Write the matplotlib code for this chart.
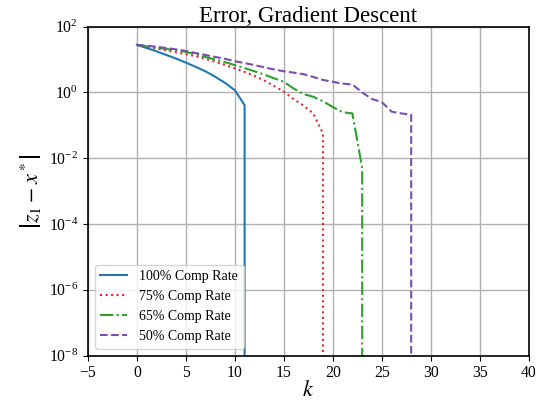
import matplotlib
matplotlib.use("Agg")
import matplotlib.pyplot as plt
from matplotlib.ticker import NullLocator

plt.rcParams['font.family'] = ['Liberation Serif', 'DejaVu Serif']
plt.rcParams['mathtext.fontset'] = 'stix'

# Erreur |z_1 - x*| par iteration k (la derniere valeur 0 = convergence exacte)
k_100 = [0, 1, 2, 3, 4, 5, 6, 7, 8, 9, 10, 11, 11]
err_100 = [28.0, 22.4, 17.8, 13.8, 10.7, 8.1, 6.0, 4.4, 3.0, 1.95, 1.17, 0.41, 0]

k_75 = list(range(20)) + [19]
err_75 = [28.0, 24.5, 21.6, 19.1, 16.6, 14.6, 12.6, 10.5, 8.5, 6.9, 5.4, 4.2,
          3.2, 2.3, 1.58, 1.05, 0.63, 0.40, 0.23, 0.056, 0]

k_65 = list(range(24)) + [23]
err_65 = [28.0, 25.1, 22.9, 20.9, 19.1, 17.1, 14.5, 12.0, 10.0, 8.3, 6.8, 5.5,
          4.4, 3.5, 2.7, 2.1, 1.32, 0.89, 0.74, 0.54, 0.36, 0.25, 0.23, 0.005, 0]

k_50 = list(range(29)) + [28]
err_50 = [28.0, 26.3, 24.5, 22.4, 20.4, 18.2, 15.8, 13.8, 12.0, 10.5, 8.9, 7.8,
          6.8, 5.8, 5.0, 4.4, 4.0, 3.6, 2.95, 2.4, 2.1, 1.86, 1.74, 1.0, 0.63,
          0.51, 0.26, 0.23, 0.21, 0]

labels = ["100% Comp Rate", "75% Comp Rate", "65% Comp Rate", "50% Comp Rate"]
y_ticks = [1e2, 1e0, 1e-2, 1e-4, 1e-6, 1e-8]

fig = plt.figure(figsize=(5.39, 4.04), dpi=100)
ax = fig.add_axes([0.163, 0.12, 0.818, 0.814])

ax.plot(k_100, err_100, '-', color='#1f77b4', lw=1.5, label=labels[0])
ax.plot(k_75, err_75, ':', color='#e8262a', lw=1.5, label=labels[1])
ax.plot(k_65, err_65, '-.', color='#2ca02c', lw=1.5, label=labels[2])
ax.plot(k_50, err_50, '--', color='#7b4eae', lw=1.5, label=labels[3])

ax.set_yscale('log')
ax.set_xlim(-5, 40)
ax.set_ylim(1e-8, 1e2)
ax.set_yticks(y_ticks)
ax.yaxis.set_minor_locator(NullLocator())
ax.grid(True, color='#b0b0b0', lw=1)
ax.tick_params(labelsize=11.3)
for s in ax.spines.values():
    s.set_linewidth(1.2)

ax.set_title("Error, Gradient Descent", fontsize=16.5, pad=2)
ax.set_xlabel(r"$k$", fontsize=16, labelpad=0)
ax.set_ylabel(r"$\left|z_1 - x^*\right|$", fontsize=16, labelpad=4)
ax.legend(loc='lower left', fontsize=10, handlelength=1.9, handletextpad=0.9)

plt.savefig("out.png", dpi=100)
plt.close()
